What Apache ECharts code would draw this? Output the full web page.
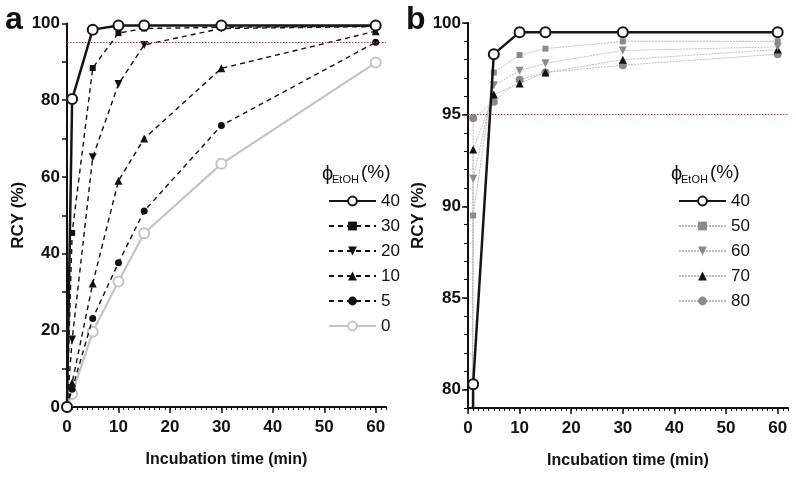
<!DOCTYPE html>
<html><head><meta charset="utf-8">
<script src="https://cdn.jsdelivr.net/npm/echarts@6/dist/echarts.min.js"></script>
<style>html,body{margin:0;padding:0;background:#fff}#c{width:796px;height:477px}</style>
</head><body><div id="c"></div>
<script>
// ---- data ----
const times = [0, 1, 5, 10, 15, 30, 60];
// panel a
const aEtOH40 = [0, 80.3, 98.4, 99.5, 99.5, 99.5, 99.5];
const aEtOH30 = [0, 45.4, 88.4, 97.5, 98.7, 99.0, 99.3];
const aEtOH20 = [0, 17.6, 65.1, 84.2, 94.4, 98.7, 99.2];
const aEtOH10 = [0, 6.3, 32.2, 59.0, 70.0, 88.3, 98.0];
const aEtOH5  = [0, 4.6, 23.1, 37.6, 51.1, 73.4, 95.1];
const aEtOH0  = [0, 3.4, 19.6, 32.7, 45.3, 63.4, 89.8];
// panel b
const bEtOH40 = [0, 80.3, 98.3, 99.5, 99.5, 99.5, 99.5];
const bEtOH50 = [0, 89.5, 97.3, 98.25, 98.6, 99.0, 99.0];
const bEtOH60 = [0, 91.5, 96.6, 97.4, 97.8, 98.5, 98.7];
const bEtOH70 = [0, 93.1, 96.1, 96.7, 97.3, 98.0, 98.55];
const bEtOH80 = [0, 94.8, 95.7, 96.9, 97.3, 97.7, 98.3];
const threshold = 95;
const xMajorTicks = [0, 10, 20, 30, 40, 50, 60];
const aYLabels = [0, 20, 40, 60, 80, 100];
const bYLabels = [80, 85, 90, 95, 100];
const aLegend = ['40', '30', '20', '10', '5', '0'];
const bLegend = ['40', '50', '60', '70', '80'];

// ---- styles ----
const FONT = "'Liberation Sans',Arial,sans-serif";
const INK = '#1a1410';
const pair = arr => times.map((t, i) => [t, arr[i]]);

function majorX(gridIndex, name) {
  return {
    gridIndex, type: 'value', min: 0, max: 62, position: 'bottom',
    name, nameLocation: 'middle', nameGap: 45,
    nameTextStyle: {fontFamily: FONT, fontWeight: 'bold', fontSize: 16, color: '#111'},
    axisLine: {onZero: false, lineStyle: {color: '#111', width: 2}},
    axisTick: {customValues: xMajorTicks, length: 6, lineStyle: {color: '#111', width: 1.5}},
    axisLabel: {customValues: xMajorTicks, margin: 12, fontFamily: FONT, fontWeight: 'bold', fontSize: 17, color: '#111'},
    splitLine: {show: false}
  };
}
function minorX(gridIndex) {
  return {
    gridIndex, type: 'value', min: 0, max: 62, interval: 1, position: 'bottom',
    axisLine: {show: false, onZero: false},
    axisTick: {show: true, length: 3, lineStyle: {color: '#111', width: 1}},
    axisLabel: {show: false}, splitLine: {show: false}
  };
}
const yName = {fontFamily: FONT, fontWeight: 'bold', fontSize: 17, color: '#111'};
const yLab = {margin: 7, fontFamily: FONT, fontWeight: 'bold', fontSize: 17, color: '#111'};

function dashed(name, data, symbol, size, rotate) {
  return {
    name, type: 'line', xAxisIndex: 0, yAxisIndex: 0, data: pair(data),
    symbol, symbolSize: size, symbolRotate: rotate || 0,
    lineStyle: {color: '#111', width: 1.4, type: [5, 4]},
    itemStyle: {color: '#111'}, z: 3
  };
}
function dotted(name, data, symbol, size, color, rotate) {
  return {
    name, type: 'line', xAxisIndex: 2, yAxisIndex: 1, data: pair(data),
    symbol, symbolSize: size, symbolRotate: rotate || 0,
    lineStyle: {color: '#bdbdbd', width: 1, type: [2, 1]},
    itemStyle: {color}, z: 3
  };
}
const redLine = {
  silent: true, symbol: 'none', label: {show: false},
  lineStyle: {color: '#e0262e', width: 1.2, type: [1.5, 1.5]},
  data: [{yAxis: threshold}]
};

const series = [
  {name: 'a0', type: 'line', xAxisIndex: 0, yAxisIndex: 0, data: pair(aEtOH0),
   symbol: 'emptyCircle', symbolSize: 10, lineStyle: {color: '#c4c4c4', width: 2.2},
   itemStyle: {color: '#c4c4c4', borderWidth: 2}, z: 2,
   markLine: redLine},
  dashed('a5', aEtOH5, 'circle', 7),
  dashed('a10', aEtOH10, 'triangle', 8),
  dashed('a20', aEtOH20, 'triangle', 8, 180),
  dashed('a30', aEtOH30, 'rect', 6),
  {name: 'a40', type: 'line', xAxisIndex: 0, yAxisIndex: 0, data: pair(aEtOH40),
   symbol: 'emptyCircle', symbolSize: 10, lineStyle: {color: INK, width: 2.5},
   itemStyle: {color: INK, borderWidth: 2}, z: 5},
  dotted('b80', bEtOH80, 'circle', 8, '#8a8a8a'),
  dotted('b70', bEtOH70, 'triangle', 8, '#111'),
  dotted('b60', bEtOH60, 'triangle', 8, '#8a8a8a', 180),
  dotted('b50', bEtOH50, 'rect', 6, '#8a8a8a'),
  {name: 'b40', type: 'line', xAxisIndex: 2, yAxisIndex: 1, data: pair(bEtOH40),
   symbol: 'emptyCircle', symbolSize: 10, lineStyle: {color: INK, width: 2.5},
   itemStyle: {color: INK, borderWidth: 2}, z: 5,
   markLine: redLine}
];

const legendCommon = {
  orient: 'vertical', itemWidth: 47, itemHeight: 11, itemGap: 7,
  textStyle: {fontFamily: FONT, fontSize: 17, color: '#111', lineHeight: 18},
  formatter: n => n.slice(1), selectedMode: false
};

const option = {
  animation: false,
  backgroundColor: '#fff',
  grid: [
    {left: 67, top: 23.5, width: 319, height: 383.5, containLabel: false},
    {left: 468, top: 23, width: 320, height: 385, containLabel: false}
  ],
  xAxis: [
    majorX(0, 'Incubation time (min)'), minorX(0),
    majorX(1, 'Incubation time (min)'), minorX(1)
  ],
  yAxis: [
    {gridIndex: 0, type: 'value', min: 0, max: 100, interval: 10, position: 'left',
     name: 'RCY (%)', nameLocation: 'middle', nameGap: 40, nameTextStyle: yName,
     axisLine: {onZero: false, lineStyle: {color: '#111', width: 2}},
     axisTick: {length: 5, lineStyle: {color: '#111', width: 1.5}},
     axisLabel: Object.assign({customValues: aYLabels}, yLab), splitLine: {show: false}},
    {gridIndex: 1, type: 'value', min: 79, max: 100, position: 'left',
     name: 'RCY (%)', nameLocation: 'middle', nameGap: 41, nameTextStyle: yName,
     axisLine: {onZero: false, lineStyle: {color: '#111', width: 2}},
     axisTick: {customValues: bYLabels, length: 6, lineStyle: {color: '#111', width: 1.5}},
     axisLabel: Object.assign({customValues: bYLabels}, yLab), splitLine: {show: false}},
    {gridIndex: 1, type: 'value', min: 79, max: 100, interval: 1, position: 'left',
     axisLine: {show: false, onZero: false},
     axisTick: {show: true, length: 4, lineStyle: {color: '#111', width: 1}},
     axisLabel: {show: false}, splitLine: {show: false}}
  ],
  legend: [
    Object.assign({left: 323, top: 187, data: aLegend.map(s => 'a' + s)}, legendCommon),
    Object.assign({left: 673, top: 187, data: bLegend.map(s => 'b' + s)}, legendCommon)
  ],
  graphic: [
    {type: 'text', x: 5, y: 4, style: {text: 'a', font: "bold 32px 'Liberation Sans',Arial", fill: '#111'}},
    {type: 'text', x: 406, y: 4, style: {text: 'b', font: "bold 32px 'Liberation Sans',Arial", fill: '#111'}},
    {type: 'text', x: 322, y: 164, style: {text: 'ϕ', font: "20px " + FONT, fill: '#111'}},
    {type: 'text', x: 332, y: 174, style: {text: 'EtOH', font: "11px " + FONT, fill: '#111'}},
    {type: 'text', x: 361, y: 163, style: {text: '(%)', font: "19px " + FONT, fill: '#111'}},
    {type: 'text', x: 671, y: 164, style: {text: 'ϕ', font: "20px " + FONT, fill: '#111'}},
    {type: 'text', x: 681, y: 174, style: {text: 'EtOH', font: "11px " + FONT, fill: '#111'}},
    {type: 'text', x: 710, y: 163, style: {text: '(%)', font: "19px " + FONT, fill: '#111'}}
  ],
  series
};
const chart = echarts.init(document.getElementById('c'), null, {renderer: 'canvas'});
chart.setOption(option);
</script></body></html>
